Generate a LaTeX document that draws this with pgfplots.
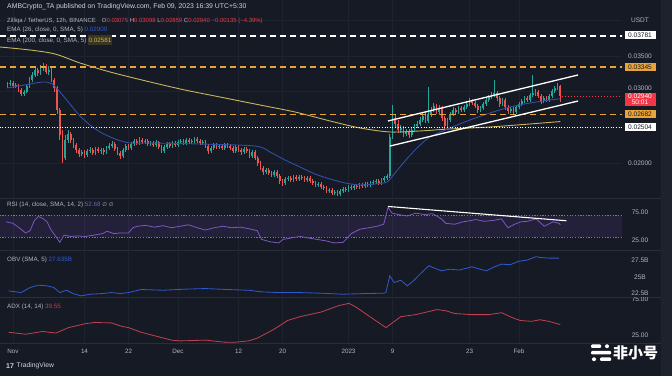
\documentclass[border=0pt]{standalone}
\usepackage{pgfplots}
\pgfplotsset{compat=1.18}
\usepackage{pgfplotstable}
\usepackage{fontspec}
\setmainfont{Liberation Sans}
\newfontfamily\dejavu{DejaVu Sans}
\newfontfamily\cjk{Noto Sans CJK SC}
\definecolor{bg}{HTML}{161A25}
\definecolor{strip}{HTML}{1E222D}
\definecolor{gridc}{HTML}{1F2331}
\definecolor{sep}{HTML}{2A2E39}
\definecolor{txt}{HTML}{B2B5BE}
\definecolor{txtlight}{HTML}{D1D4DC}
\definecolor{bandline}{HTML}{787B86}
\definecolor{yelbox}{HTML}{3A3520}
\definecolor{tvgreen}{HTML}{26A69A}
\definecolor{tvred}{HTML}{EF5350}
\definecolor{emablue}{HTML}{2F4FA8}
\definecolor{emayellow}{HTML}{C8B45A}
\definecolor{lvlorange}{HTML}{E8A33A}
\definecolor{rsipurple}{HTML}{7E57C2}
\definecolor{obvblue}{HTML}{2E5BD0}
\definecolor{adxred}{HTML}{C2414E}
\definecolor{labred}{HTML}{F23645}
\newcommand{\sm}{\fontsize{6.3}{7.3}\selectfont}
\newcommand{\pl}{\fontsize{6.6}{7.4}\selectfont}
\pgfplotstableread{
d o h l c
-1.0 0.03080 0.03136 0.03051 0.03108
-0.5 0.03108 0.03164 0.03080 0.03122
0.0 0.03122 0.03150 0.03051 0.03080
0.5 0.03080 0.03122 0.03051 0.03094
1.0 0.03094 0.03108 0.02995 0.03023
1.5 0.03023 0.03051 0.02939 0.02967
2.0 0.02967 0.03023 0.02939 0.02995
2.5 0.02995 0.03108 0.02981 0.03080
3.0 0.03080 0.03206 0.03051 0.03164
3.5 0.03164 0.03276 0.03136 0.03234
4.0 0.03234 0.03360 0.03206 0.03304
4.5 0.03304 0.03332 0.03220 0.03262
5.0 0.03262 0.03374 0.03234 0.03332
5.5 0.03332 0.03402 0.03290 0.03360
6.0 0.03360 0.03388 0.03248 0.03276
6.5 0.03276 0.03360 0.03234 0.03304
7.0 0.03304 0.03332 0.03136 0.03164
7.5 0.03164 0.03192 0.02995 0.03051
8.0 0.03051 0.03080 0.02687 0.02743
8.5 0.02743 0.02771 0.02322 0.02393
9.0 0.02393 0.02463 0.02000 0.02070
9.5 0.02070 0.02393 0.02042 0.02322
10.0 0.02322 0.02463 0.02280 0.02407
10.5 0.02407 0.02435 0.02280 0.02322
11.0 0.02322 0.02351 0.02210 0.02252
11.5 0.02252 0.02280 0.02140 0.02182
12.0 0.02182 0.02210 0.02084 0.02126
12.5 0.02126 0.02182 0.02098 0.02154
13.0 0.02154 0.02182 0.02070 0.02112
13.5 0.02112 0.02196 0.02084 0.02168
14.0 0.02168 0.02224 0.02140 0.02182
14.5 0.02182 0.02210 0.02112 0.02140
15.0 0.02140 0.02224 0.02112 0.02196
15.5 0.02196 0.02224 0.02140 0.02168
16.0 0.02168 0.02210 0.02126 0.02182
16.5 0.02182 0.02210 0.02112 0.02154
17.0 0.02154 0.02238 0.02126 0.02210
17.5 0.02210 0.02280 0.02182 0.02238
18.0 0.02238 0.02308 0.02210 0.02266
18.5 0.02266 0.02294 0.02168 0.02196
19.0 0.02196 0.02224 0.02112 0.02140
19.5 0.02140 0.02168 0.02056 0.02098
20.0 0.02098 0.02210 0.02070 0.02182
20.5 0.02182 0.02266 0.02154 0.02238
21.0 0.02238 0.02266 0.02182 0.02210
21.5 0.02210 0.02294 0.02182 0.02266
22.0 0.02266 0.02337 0.02238 0.02308
22.5 0.02308 0.02337 0.02252 0.02280
23.0 0.02280 0.02365 0.02252 0.02322
23.5 0.02322 0.02351 0.02266 0.02294
24.0 0.02294 0.02337 0.02266 0.02308
24.5 0.02308 0.02337 0.02238 0.02266
25.0 0.02266 0.02308 0.02238 0.02280
25.5 0.02280 0.02308 0.02224 0.02252
26.0 0.02252 0.02322 0.02224 0.02294
26.5 0.02294 0.02308 0.02196 0.02224
27.0 0.02224 0.02252 0.02140 0.02168
27.5 0.02168 0.02252 0.02140 0.02224
28.0 0.02224 0.02294 0.02196 0.02266
28.5 0.02266 0.02294 0.02210 0.02238
29.0 0.02238 0.02308 0.02210 0.02280
29.5 0.02280 0.02308 0.02224 0.02252
30.0 0.02252 0.02322 0.02224 0.02294
30.5 0.02294 0.02337 0.02266 0.02308
31.0 0.02308 0.02337 0.02252 0.02280
31.5 0.02280 0.02351 0.02252 0.02322
32.0 0.02322 0.02351 0.02266 0.02294
32.5 0.02294 0.02337 0.02266 0.02308
33.0 0.02308 0.02365 0.02280 0.02337
33.5 0.02337 0.02365 0.02280 0.02308
34.0 0.02308 0.02337 0.02252 0.02280
34.5 0.02280 0.02322 0.02252 0.02294
35.0 0.02294 0.02322 0.02210 0.02238
35.5 0.02238 0.02266 0.02126 0.02168
36.0 0.02168 0.02238 0.02140 0.02210
36.5 0.02210 0.02280 0.02182 0.02252
37.0 0.02252 0.02280 0.02196 0.02224
37.5 0.02224 0.02266 0.02196 0.02238
38.0 0.02238 0.02266 0.02182 0.02210
38.5 0.02210 0.02280 0.02182 0.02252
39.0 0.02252 0.02280 0.02210 0.02238
39.5 0.02238 0.02266 0.02182 0.02210
40.0 0.02210 0.02238 0.02140 0.02168
40.5 0.02168 0.02252 0.02140 0.02224
41.0 0.02224 0.02252 0.02154 0.02182
41.5 0.02182 0.02210 0.02112 0.02154
42.0 0.02154 0.02224 0.02126 0.02196
42.5 0.02196 0.02224 0.02140 0.02168
43.0 0.02168 0.02196 0.02070 0.02098
43.5 0.02098 0.02182 0.02070 0.02154
44.0 0.02154 0.02182 0.02042 0.02070
44.5 0.02070 0.02098 0.01958 0.02000
45.0 0.02000 0.02028 0.01902 0.01930
45.5 0.01930 0.01958 0.01832 0.01874
46.0 0.01874 0.01930 0.01846 0.01902
46.5 0.01902 0.01930 0.01832 0.01860
47.0 0.01860 0.01888 0.01804 0.01832
47.5 0.01832 0.01902 0.01804 0.01874
48.0 0.01874 0.01902 0.01790 0.01818
48.5 0.01818 0.01846 0.01706 0.01748
49.0 0.01748 0.01776 0.01678 0.01720
49.5 0.01720 0.01804 0.01692 0.01776
50.0 0.01776 0.01818 0.01748 0.01790
50.5 0.01790 0.01818 0.01734 0.01762
51.0 0.01762 0.01832 0.01734 0.01804
51.5 0.01804 0.01832 0.01748 0.01776
52.0 0.01776 0.01832 0.01748 0.01804
52.5 0.01804 0.01832 0.01762 0.01790
53.0 0.01790 0.01818 0.01734 0.01762
53.5 0.01762 0.01818 0.01734 0.01790
54.0 0.01790 0.01818 0.01720 0.01748
54.5 0.01748 0.01776 0.01692 0.01720
55.0 0.01720 0.01748 0.01664 0.01692
55.5 0.01692 0.01734 0.01664 0.01706
56.0 0.01706 0.01734 0.01636 0.01664
56.5 0.01664 0.01692 0.01622 0.01650
57.0 0.01650 0.01678 0.01579 0.01608
57.5 0.01608 0.01650 0.01579 0.01622
58.0 0.01622 0.01650 0.01551 0.01579
58.5 0.01579 0.01622 0.01551 0.01593
59.0 0.01593 0.01622 0.01537 0.01565
59.5 0.01565 0.01636 0.01537 0.01608
60.0 0.01608 0.01664 0.01579 0.01636
60.5 0.01636 0.01664 0.01593 0.01622
61.0 0.01622 0.01692 0.01593 0.01664
61.5 0.01664 0.01692 0.01622 0.01650
62.0 0.01650 0.01706 0.01622 0.01678
62.5 0.01678 0.01706 0.01636 0.01664
63.0 0.01664 0.01720 0.01636 0.01692
63.5 0.01692 0.01720 0.01650 0.01678
64.0 0.01678 0.01734 0.01650 0.01706
64.5 0.01706 0.01734 0.01664 0.01692
65.0 0.01692 0.01748 0.01664 0.01720
65.5 0.01720 0.01762 0.01692 0.01734
66.0 0.01734 0.01776 0.01706 0.01748
66.5 0.01748 0.01776 0.01692 0.01720
67.0 0.01720 0.01790 0.01692 0.01762
67.5 0.01762 0.01818 0.01734 0.01790
68.0 0.01790 0.01846 0.01762 0.01818
68.5 0.01818 0.02407 0.01790 0.02365
69.0 0.02365 0.02813 0.02337 0.02631
69.5 0.02631 0.02687 0.02505 0.02547
70.0 0.02547 0.02603 0.02421 0.02463
70.5 0.02463 0.02533 0.02421 0.02491
71.0 0.02491 0.02519 0.02365 0.02407
71.5 0.02407 0.02477 0.02379 0.02449
72.0 0.02449 0.02477 0.02351 0.02393
72.5 0.02393 0.02491 0.02365 0.02463
73.0 0.02463 0.02547 0.02435 0.02519
73.5 0.02519 0.02589 0.02491 0.02547
74.0 0.02547 0.02645 0.02519 0.02603
74.5 0.02603 0.02701 0.02575 0.02659
75.0 0.02659 0.02715 0.02561 0.02589
75.5 0.02589 0.03065 0.02561 0.02687
76.0 0.02687 0.02785 0.02645 0.02743
76.5 0.02743 0.02841 0.02715 0.02799
77.0 0.02799 0.02827 0.02687 0.02715
77.5 0.02715 0.02813 0.02673 0.02771
78.0 0.02771 0.02799 0.02589 0.02631
78.5 0.02631 0.02659 0.02477 0.02519
79.0 0.02519 0.02631 0.02491 0.02603
79.5 0.02603 0.02715 0.02575 0.02687
80.0 0.02687 0.02785 0.02659 0.02743
80.5 0.02743 0.02771 0.02673 0.02715
81.0 0.02715 0.02799 0.02687 0.02771
81.5 0.02771 0.02799 0.02715 0.02743
82.0 0.02743 0.02813 0.02715 0.02785
82.5 0.02785 0.02869 0.02757 0.02827
83.0 0.02827 0.02911 0.02799 0.02869
83.5 0.02869 0.02897 0.02813 0.02841
84.0 0.02841 0.02869 0.02771 0.02799
84.5 0.02799 0.02827 0.02701 0.02743
85.0 0.02743 0.02799 0.02715 0.02771
85.5 0.02771 0.02855 0.02743 0.02827
86.0 0.02827 0.02925 0.02799 0.02883
86.5 0.02883 0.02953 0.02855 0.02925
87.0 0.02925 0.02995 0.02897 0.02953
87.5 0.02953 0.03164 0.02925 0.02981
88.0 0.02981 0.03009 0.02869 0.02911
88.5 0.02911 0.02939 0.02785 0.02827
89.0 0.02827 0.02911 0.02799 0.02883
89.5 0.02883 0.02911 0.02743 0.02785
90.0 0.02785 0.02813 0.02687 0.02729
90.5 0.02729 0.02785 0.02701 0.02757
91.0 0.02757 0.02785 0.02673 0.02715
91.5 0.02715 0.02813 0.02687 0.02785
92.0 0.02785 0.02855 0.02757 0.02827
92.5 0.02827 0.02897 0.02799 0.02869
93.0 0.02869 0.02939 0.02841 0.02911
93.5 0.02911 0.02939 0.02855 0.02883
94.0 0.02883 0.02981 0.02855 0.02953
94.5 0.02953 0.03234 0.02925 0.02981
95.0 0.02981 0.03037 0.02939 0.02995
95.5 0.02995 0.03023 0.02911 0.02939
96.0 0.02939 0.02967 0.02827 0.02869
96.5 0.02869 0.02939 0.02841 0.02911
97.0 0.02911 0.02939 0.02855 0.02883
97.5 0.02883 0.02967 0.02855 0.02939
98.0 0.02939 0.03037 0.02911 0.03009
98.5 0.03009 0.03080 0.02981 0.03051
99.0 0.03051 0.03122 0.03023 0.03075
99.5 0.03075 0.03098 0.02859 0.02940
}\candles
\pgfplotsset{panel/.style={scale only axis, width=622bp, xmin=-2.3636, xmax=110.727,
  anchor=north west, axis line style={draw=none}, tick style={draw=none},
  xtick={0,13,21,30,41,49,61,69,83,92}, xticklabels={}, xmajorgrids=true,
  major grid style={draw=gridc, line width=0.6bp}, clip mode=individual,
  scaled y ticks=false, scaled x ticks=false},
  candle/.style 2 args={draw=none, mark=none, forget plot, error bars/.cd, y dir=minus, y explicit,
  error mark=none, error bar style={draw=#1, line width=#2, solid}}}
\begin{document}
\begin{tikzpicture}
\fill[bg] (0bp,0bp) rectangle (672bp,376bp);
\useasboundingbox (0bp,0bp) rectangle (672bp,376bp);
\fill[strip] (661bp,0bp) rectangle (672bp,376bp);
\foreach \yy in {178,126,79,33} {\draw[sep, line width=0.8bp] (0bp,\yy bp) -- (661bp,\yy bp);}
% ---------- main price panel
\begin{axis}[panel, at={(0bp,376bp)}, height=198bp, ymin=0.015093, ymax=0.042851,
  ytick={0.02,0.025,0.03,0.035,0.04}, yticklabels={}, ymajorgrids=true]
\addplot[candle={tvgreen}{0.6bp}]
  table[x=d, y expr={\thisrow{c}>=\thisrow{o} ? \thisrow{h} : 0}, y error minus expr={\thisrow{h}-\thisrow{l}}] {\candles};
\addplot[candle={tvred}{0.6bp}]
  table[x=d, y expr={\thisrow{c}<\thisrow{o} ? \thisrow{h} : 0}, y error minus expr={\thisrow{h}-\thisrow{l}}] {\candles};
\addplot[candle={tvgreen}{1.9bp}]
  table[x=d, y expr={\thisrow{c}>=\thisrow{o} ? \thisrow{c} : 0}, y error minus expr={\thisrow{c}-\thisrow{o}}] {\candles};
\addplot[candle={tvred}{1.9bp}]
  table[x=d, y expr={\thisrow{c}<\thisrow{o} ? \thisrow{o} : 0}, y error minus expr={\thisrow{o}-\thisrow{c}}] {\candles};
% EMA 200
\addplot[emayellow, line width=0.9bp, smooth] coordinates {(-2.36,0.03626) (3.09,0.03584) (7.64,0.03528) (12.18,0.03402) (17.64,0.03276) (24.91,0.03136) (31.27,0.03023) (37.64,0.02925) (44.91,0.02813) (51.27,0.02715) (57.64,0.02589) (63.09,0.02491) (68.55,0.02435) (74.0,0.02449) (79.45,0.02477) (86.73,0.02505) (94.0,0.02547) (99.5,0.02581)};
% EMA 26
\addplot[emablue, line width=0.9bp, smooth] coordinates {(-1.09,0.03051) (2.18,0.03094) (5.45,0.03136) (7.09,0.03108) (8.55,0.02995) (10.36,0.02827) (12.18,0.02659) (14.0,0.02533) (15.82,0.02435) (18.55,0.02337) (21.27,0.02280) (24.91,0.02280) (34.0,0.02266) (44.0,0.02238) (46.73,0.02154) (49.45,0.02042) (52.18,0.01944) (54.91,0.01846) (57.64,0.01776) (60.36,0.01720) (63.09,0.01692) (65.82,0.01706) (68.0,0.01734) (69.45,0.01860) (71.27,0.02028) (73.45,0.02210) (75.82,0.02365) (79.45,0.02491) (83.09,0.02603) (86.73,0.02701) (90.36,0.02785) (94.0,0.02841) (97.64,0.02883) (99.5,0.02900)};
% levels
\addplot[white, line width=1.1bp, dash pattern=on 6bp off 4bp] coordinates {(-2.4,0.03781) (111,0.03781)};
\addplot[lvlorange, line width=1.2bp, dash pattern=on 6bp off 4bp] coordinates {(-2.4,0.03345) (111,0.03345)};
\addplot[lvlorange, line width=1.2bp, dash pattern=on 6bp off 4bp] coordinates {(-2.4,0.02682) (111,0.02682)};
\addplot[white, line width=0.9bp, dash pattern=on 1bp off 1.6bp] coordinates {(-2.4,0.02504) (111,0.02504)};
\addplot[labred, line width=0.6bp, dash pattern=on 1.5bp off 1.5bp] coordinates {(99.8,0.02940) (111,0.02940)};
% channel
\addplot[white, line width=1.3bp] coordinates {(68.18,0.02589) (102.73,0.03234)};
\addplot[white, line width=1.3bp] coordinates {(68.55,0.02238) (102.73,0.02869)};
\end{axis}
% ---------- RSI
\begin{axis}[panel, at={(0bp,178bp)}, height=52bp, ymin=6.8, ymax=101.4, ytick=\empty]
\addplot[draw=none, fill=rsipurple, fill opacity=0.13] coordinates {(-2.4,30) (111,30) (111,70) (-2.4,70) (-2.4,30)};
\addplot[bandline, line width=0.5bp, dash pattern=on 1.2bp off 1.5bp] coordinates {(-2.4,70) (111,70)};
\addplot[bandline, line width=0.5bp, dash pattern=on 1.2bp off 1.5bp] coordinates {(-2.4,30) (111,30)};
\addplot[rsipurple, line width=0.8bp] coordinates {(-1.2,58.0) (0,55.3) (1.1,47.3) (2.3,37.8) (3.1,42.0) (3.9,60.6) (4.6,67.6) (5.4,64.4) (6.2,58.0) (7.0,42.0) (7.8,31.4) (8.5,20.7) (9.3,34.0) (10.5,31.4) (11.7,32.4) (13.2,31.4) (14.8,34.0) (16.3,36.7) (17.1,41.0) (18.3,36.7) (19.5,37.8) (21.0,37.8) (21.8,47.3) (22.6,50.0) (24.1,51.6) (25.7,48.4) (27.3,51.1) (28.8,47.3) (30.4,50.0) (31.9,52.7) (33.5,47.3) (35.0,43.1) (36.6,47.3) (38.2,50.0) (39.7,47.3) (41.3,48.4) (42.8,45.7) (44.4,42.0) (45.2,26.1) (46.7,21.8) (48.3,19.7) (49.1,26.1) (50.6,28.7) (52.2,31.4) (53.7,28.7) (55.3,26.1) (56.9,23.4) (58.4,19.7) (60.0,20.7) (60.8,28.7) (61.5,36.7) (63.1,44.7) (64.7,47.3) (66.2,50.0) (67.4,53.7) (68.2,84.6) (68.9,73.9) (70.1,71.3) (71.7,68.6) (73.2,73.9) (74.8,71.3) (76.3,72.9) (77.9,63.3) (78.7,55.3) (80.3,53.7) (81.8,58.0) (83.4,60.6) (84.1,62.2) (85.7,59.0) (87.3,60.6) (88.8,63.3) (90.0,47.3) (91.2,53.7) (92.3,58.0) (93.5,59.0) (95.1,63.3) (96.6,50.0) (98.2,58.0) (99.3,55.3) (99.5,52.68)};
\addplot[white, line width=1.1bp] coordinates {(68.2,86) (100.6,60)};
\end{axis}
% ---------- OBV
\begin{axis}[panel, at={(0bp,126bp)}, height=47bp, ymin=21.92, ymax=29.15, ytick=\empty]
\addplot[obvblue, line width=0.8bp] coordinates {(-0.8,22.86) (1.5,22.6) (3.1,23.38) (4.6,23.74) (6.2,23.63) (7.4,23.38) (8.5,22.6) (9.7,22.96) (10.9,22.45) (12.4,22.09) (14.0,22.35) (16.3,22.45) (17.9,22.6) (19.5,22.45) (21.0,22.6) (23.3,23.07) (27.3,22.96) (31.1,23.12) (35.0,23.22) (38.9,23.07) (42.8,22.96) (45.2,22.71) (48.3,22.6) (52.2,22.6) (56.1,22.5) (60.0,22.35) (63.9,22.45) (67.4,22.5) (67.8,22.6) (68.5,25.18) (69.3,24.15) (70.5,24.5) (71.7,23.63) (72.8,24.4) (74.0,25.44) (75.6,26.73) (76.3,26.47) (77.9,25.95) (79.5,26.2) (81.0,26.06) (82.6,26.37) (83.4,26.57) (84.9,26.2) (86.1,25.95) (87.3,26.47) (88.8,26.98) (90.4,26.88) (91.9,27.4) (93.5,27.6) (95.1,28.12) (95.8,28.0) (97.4,27.9) (99.3,27.9)};
\end{axis}
% ---------- ADX
\begin{axis}[panel, at={(0bp,79bp)}, height=46bp, ymin=13.9, ymax=77.8, ytick=\empty,
  xticklabels={Nov,14,22,Dec,12,20,2023,9,23,Feb},
  xticklabel style={font=\sm, text=txt, anchor=center, yshift=-8bp}]
\addplot[adxred, line width=0.8bp] coordinates {(-0.8,28.8) (2.3,26.1) (5.4,29.9) (7.8,27.7) (10.1,35.3) (13.2,40.8) (14.8,42.4) (17.9,41.8) (19.8,37.0) (21.0,35.3) (23.3,28.8) (28.8,17.9) (30.4,16.8) (35.0,17.9) (38.2,15.2) (40.1,14.8) (42.8,16.8) (44.4,20.6) (47.5,33.2) (49.9,45.1) (52.2,50.5) (56.1,57.1) (59.2,65.8) (61.1,69.0) (62.3,64.1) (65.4,47.8) (67.8,35.3) (70.5,50.5) (73.2,53.3) (77.1,60.3) (78.7,58.7) (80.3,54.9) (83.4,53.3) (86.5,53.3) (88.8,56.0) (91.2,47.8) (92.3,45.1) (94.3,44.0) (95.8,46.2) (97.4,44.0) (99.5,39.55)};
\end{axis}
% ---------- headers
\begin{scope}[every node/.style={font=\sm, anchor=west, inner sep=0pt}]
\node[text=txtlight, font=\fontsize{6.9}{8}\selectfont] at (7bp,369bp) {AMBCrypto\_TA published on TradingView.com, Feb 09, 2023 16:39 UTC+5:30};
\node[font=\fontsize{6}{7}\selectfont] at (7bp,355bp) {\color{txt}Zilliqa / TetherUS, 12h, BINANCE\quad O\textcolor{labred}{0.03075}\ H\textcolor{labred}{0.03098}\ L\textcolor{labred}{0.02859}\ C\textcolor{labred}{0.02940}\ \textcolor{labred}{−0.00135 (−4.39\%)}};
\node at (7bp,346bp) {\color{txt}EMA (26, close, 0, SMA, 5)\ \textcolor{obvblue}{0.02900}};
\node at (7bp,336bp) {\color{txt}EMA (200, close, 0, SMA, 5)\ \colorbox{yelbox}{\kern-2.5pt\textcolor{emayellow}{0.02581}\kern-2.5pt}};
\node at (7bp,171bp) {\color{txt}RSI (14, close, SMA, 14, 2)\ \textcolor{rsipurple}{52.68}\ {\dejavu\fontsize{5.4}{6}\selectfont ∅\ ∅}};
\node at (7bp,116bp) {\color{txt}OBV (SMA, 5)\ \textcolor{obvblue}{27.635B}};
\node at (7bp,69bp) {\color{txt}ADX (14, 14)\ \textcolor{adxred}{39.55}};
\end{scope}
% ---------- right scale
\begin{scope}[every node/.style={font=\pl, inner sep=1.3bp, minimum width=31bp, text=txt}]
\node at (640bp,356bp) {USDT};
\node at (640bp,320bp) {0.03500};
\node at (640bp,213bp) {0.02000};
\node[fill=white, text=bg] at (640bp,341bp) {0.03781};
\node[fill=lvlorange, text=bg] at (640bp,309bp) {0.03345};
\node[fill=labred, text=white, align=center, anchor=north] at (640bp,283.5bp) {0.02940\\[-1pt]50:01};
\node[fill=lvlorange, text=bg] at (640bp,262bp) {0.02682};
\node[fill=white, text=bg] at (640bp,249bp) {0.02504};
\node at (640bp,163.5bp) {75.00};
\node at (640bp,136bp) {25.00};
\node at (640bp,115.5bp) {27.5B};
\node at (640bp,99bp) {25B};
\node at (640bp,83bp) {22.5B};
\node at (640bp,41bp) {25.00};
\end{scope}
\node[font=\pl, text=txt, inner sep=0.5bp] at (640bp,287.3bp) {0.03000};
\begin{scope}
\clip (600bp,33bp) rectangle (661bp,78.5bp);
\node[font=\pl, text=txt, inner sep=0.5bp] at (640bp,76.5bp) {75.00};
\end{scope}
% ---------- footer
\node[font=\bfseries\fontsize{7}{8}\selectfont, text=txtlight, anchor=west, inner sep=0pt] at (6bp,10bp) {17};
\node[font=\fontsize{6.8}{8}\selectfont, text=txtlight, anchor=west, inner sep=0pt] at (16.5bp,10bp) {TradingView};
% ---------- watermark
\fill[white, rounded corners=1bp] (591bp,28bp) rectangle (601bp,31.5bp);
\fill[white] (607bp,29.75bp) circle (2bp);
\fill[white, rounded corners=1bp] (591bp,21.5bp) rectangle (611bp,25bp);
\fill[white] (594bp,16.75bp) circle (2bp);
\fill[white, rounded corners=1bp] (600bp,15bp) rectangle (611bp,18.5bp);
\node[font=\cjk\bfseries\fontsize{15}{16}\selectfont, text=white, anchor=west, inner sep=0pt] at (613bp,23bp) {非小号};
\end{tikzpicture}
\end{document}
